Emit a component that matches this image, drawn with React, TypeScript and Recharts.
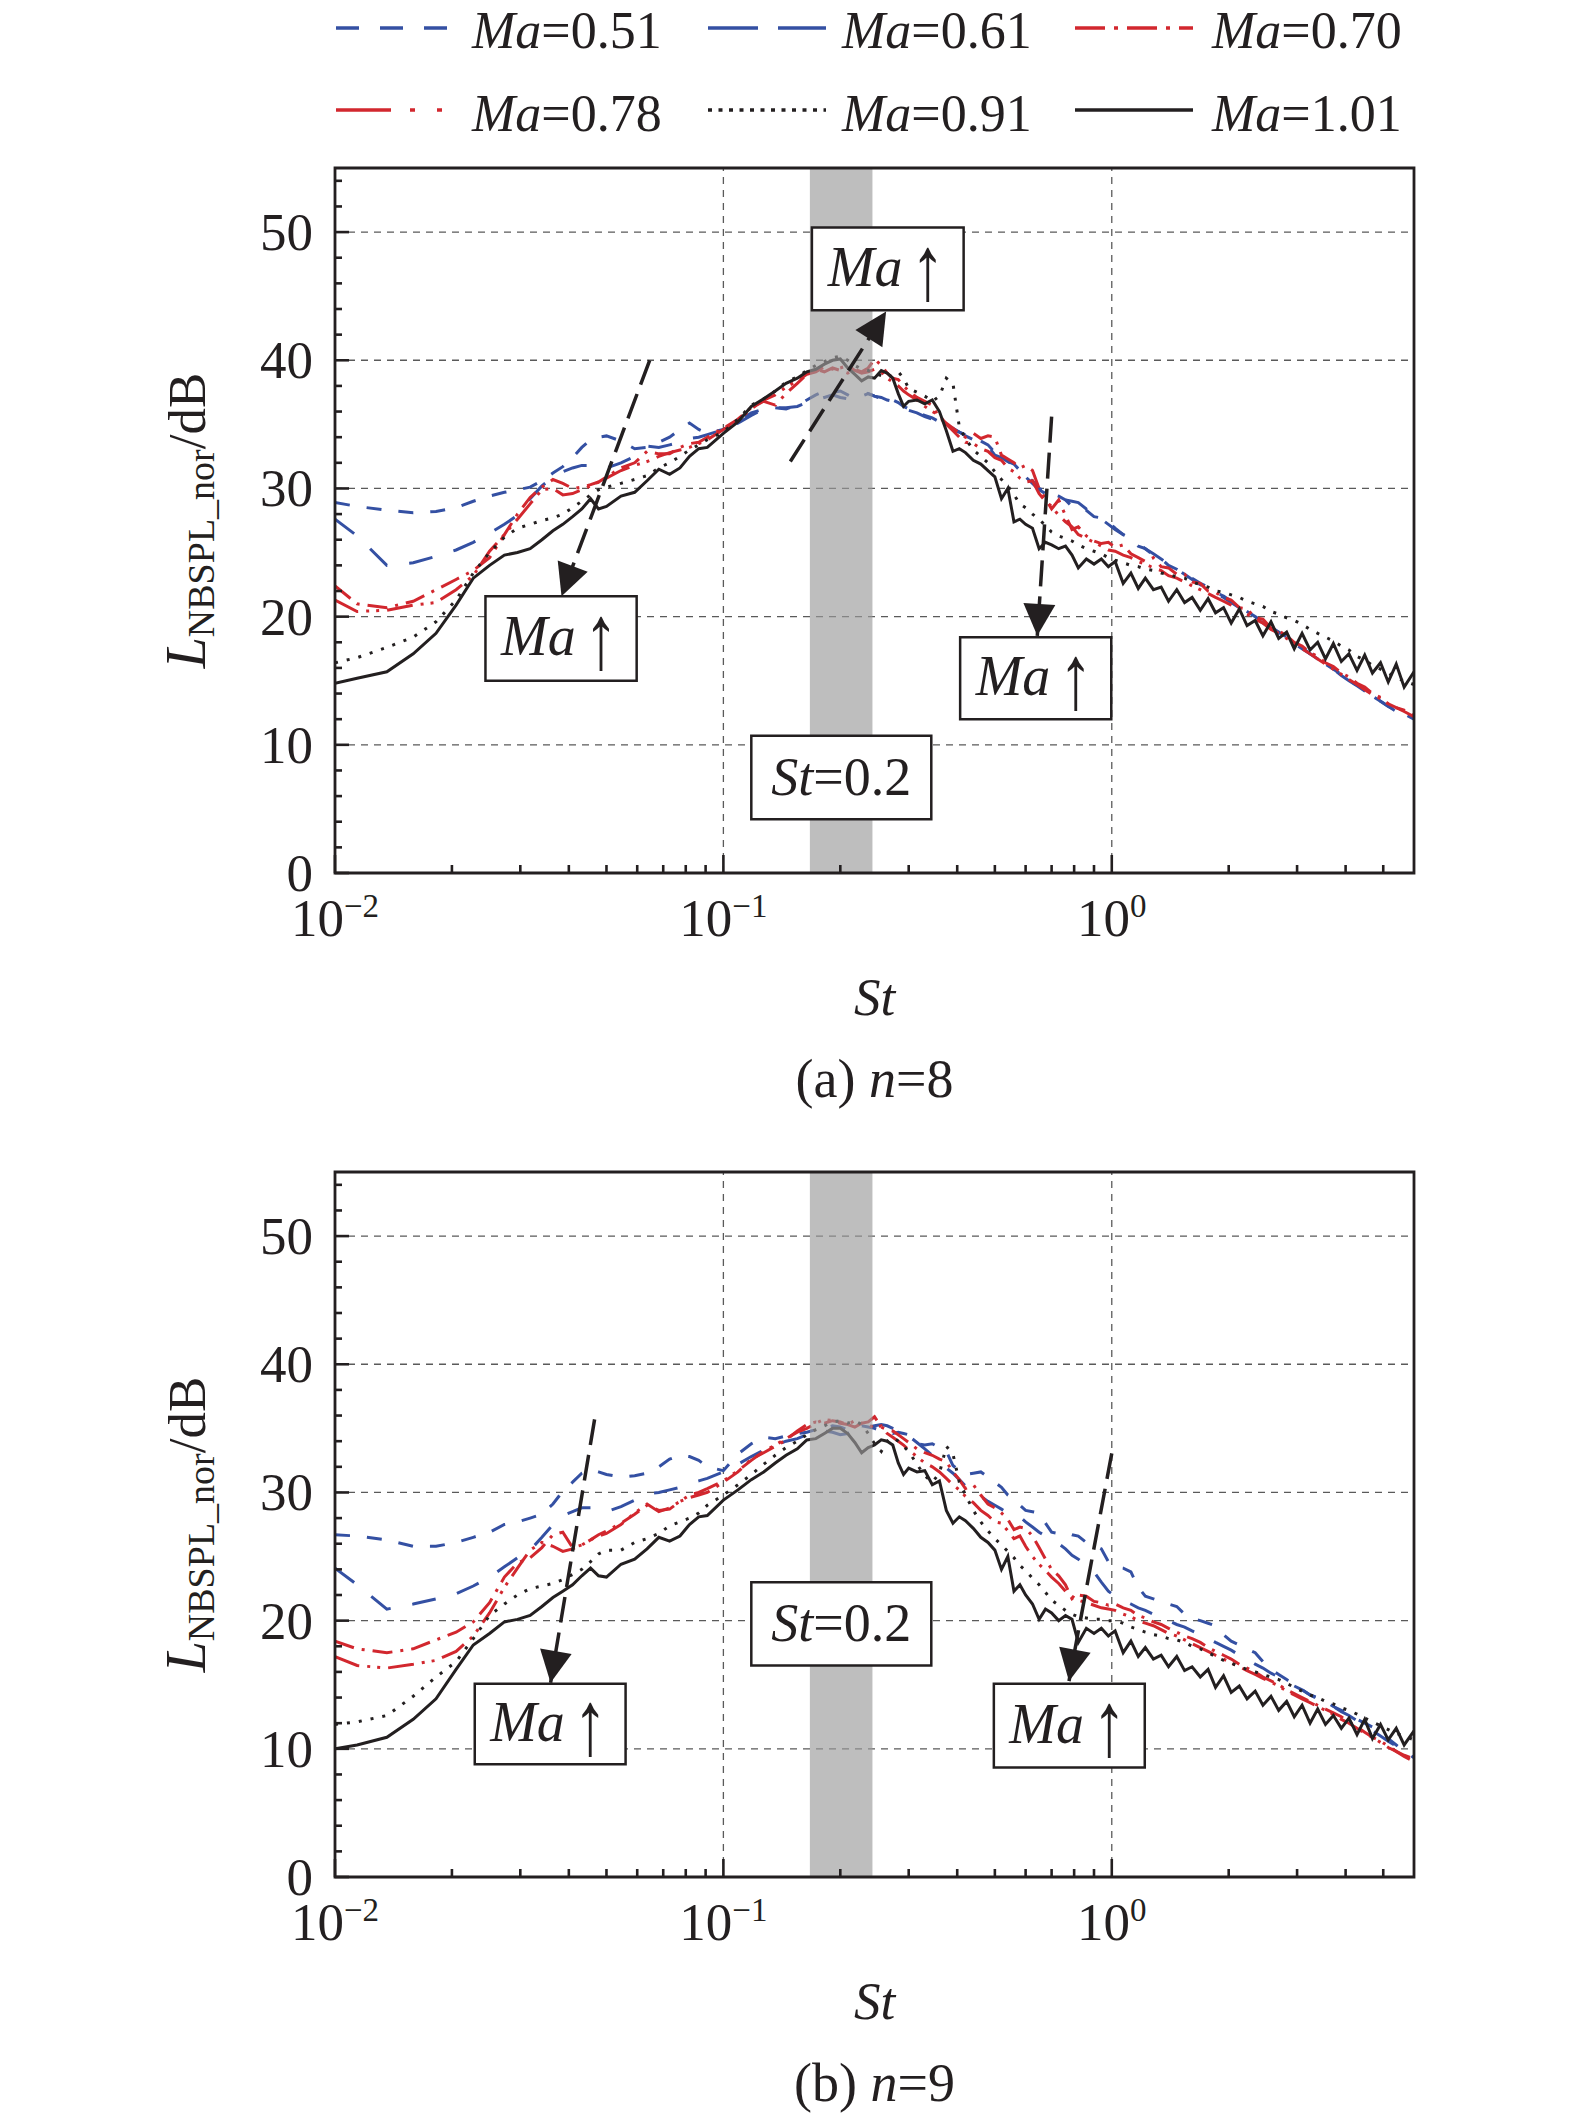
import React from 'react';
import { ComposedChart, Line, XAxis, YAxis, ReferenceArea, ReferenceLine } from 'recharts';

const FONT = '"Liberation Serif", "Times New Roman", Times, serif';
const INK = '#231f20';
const BLUE = '#3450a3';
const RED = '#d2272e';

// Strouhal number grid (shared by all series)
const stValues = [
  0.01, 0.0114, 0.0136, 0.0159, 0.0182, 0.0205, 0.0227, 0.025, 0.0273, 0.0295,
  0.0318, 0.0341, 0.0364, 0.0386, 0.0409, 0.0432, 0.0455, 0.0477, 0.05, 0.0545,
  0.0591, 0.0636, 0.0682, 0.0727, 0.0773, 0.0818, 0.0864, 0.0909, 0.1, 0.109,
  0.118, 0.127, 0.136, 0.145, 0.155, 0.164, 0.173, 0.182, 0.191, 0.2,
  0.209, 0.218, 0.227, 0.236, 0.245, 0.255, 0.264, 0.273, 0.282, 0.291,
  0.3, 0.315, 0.33, 0.345, 0.36, 0.375, 0.39, 0.405, 0.42, 0.44,
  0.46, 0.48, 0.5, 0.52, 0.54, 0.56, 0.58, 0.6, 0.625, 0.65,
  0.675, 0.7, 0.73, 0.76, 0.79, 0.82, 0.86, 0.9, 0.94, 0.98,
  1.02, 1.07, 1.12, 1.17, 1.22, 1.28, 1.34, 1.4, 1.47, 1.54,
  1.61, 1.69, 1.77, 1.85, 1.94, 2.03, 2.13, 2.23, 2.34, 2.45,
  2.57, 2.69, 2.82, 2.95, 3.09, 3.24, 3.39, 3.55, 3.72, 3.9,
  4.08, 4.28, 4.48, 4.69, 4.92, 5.15, 5.4, 5.66, 6.0,
];

// ---------- (a) n = 8 ----------
const n8Ma051 = [
  28.9, 28.6, 28.3, 28.1, 28.2, 28.5, 29.0, 29.4, 29.7, 29.9,
  30.1, 30.6, 31.2, 31.7, 32.4, 33.2, 33.8, 34.0, 34.1, 33.7,
  33.1, 33.2, 33.6, 34.0, 34.6, 35.1, 34.6, 34.3, 34.6, 35.2,
  35.9, 36.2, 36.3, 36.2, 36.5, 36.9, 37.3, 37.6, 37.5, 37.6,
  37.3, 37.0, 37.2, 37.4, 37.2, 37.0, 37.1, 36.9, 36.7, 36.4,
  36.2, 35.9, 35.7, 35.5, 35.2, 35.0, 34.7, 34.4, 34.2, 33.9,
  33.7, 33.4, 32.8, 32.5, 32.1, 31.9, 31.4, 31.0, 30.6, 30.0,
  29.8, 29.6, 29.4, 29.1, 28.6, 28.5, 28.3, 27.8, 27.7, 27.4,
  26.9, 26.4, 26.0, 25.5, 25.3, 24.8, 24.5, 24.0, 23.7, 23.3,
  23.0, 22.6, 22.3, 21.9, 21.6, 21.2, 20.8, 20.4, 20.0, 19.6,
  19.2, 18.8, 18.4, 18.0, 17.6, 17.1, 16.7, 16.3, 15.9, 15.5,
  15.1, 14.6, 14.2, 13.8, 13.4, 13.0, 12.7, 12.4, 12.0,
];
const n8Ma061 = [
  27.6, 26.3, 24.0, 24.2, 24.7, 25.2, 25.8, 26.5, 27.2, 27.9,
  29.2, 30.2, 30.9, 31.3, 31.6, 31.8, 31.8, 31.7, 31.6, 32.0,
  32.5, 33.3, 33.2, 33.4, 33.6, 33.9, 34.0, 34.2, 34.6, 35.1,
  35.7, 36.2, 36.3, 36.3, 36.4, 36.7, 36.9, 37.1, 37.3, 37.1,
  37.0, 37.2, 37.5, 37.4, 37.2, 37.1, 36.9, 36.8, 36.6, 36.3,
  36.1, 35.9, 35.6, 35.4, 35.2, 35.0, 34.6, 34.4, 34.1, 33.8,
  33.6, 33.3, 32.6, 32.4, 32.1, 31.8, 31.3, 30.9, 30.4, 29.9,
  29.6, 29.4, 29.3, 29.1, 29.0, 28.9, 28.4, 28.0, 27.6, 27.2,
  26.8, 26.4, 26.1, 25.7, 25.3, 24.9, 24.5, 24.1, 23.7, 23.3,
  22.9, 22.5, 22.2, 21.8, 21.5, 21.1, 20.7, 20.3, 19.9, 19.5,
  19.1, 18.7, 18.3, 17.9, 17.5, 17.1, 16.7, 16.3, 15.9, 15.4,
  15.0, 14.6, 14.2, 13.8, 13.4, 13.0, 12.6, 12.3, 11.9,
];
const n8Ma070 = [
  22.4, 21.0, 20.7, 21.2, 22.1, 22.9, 23.6, 24.6, 26.4, 28.0,
  29.3, 30.1, 30.7, 30.4, 30.0, 30.1, 30.3, 30.5, 30.9, 31.6,
  32.0, 32.9, 32.7, 32.7, 33.2, 33.5, 33.6, 34.0, 34.7, 35.4,
  36.3, 36.8, 36.5, 37.4, 38.2, 38.9, 39.3, 39.1, 39.4, 39.2,
  39.0, 39.3, 39.1, 39.4, 40.1, 39.6, 39.0, 38.6, 38.5, 38.0,
  37.6, 37.1, 36.8, 36.5, 35.5, 35.1, 34.7, 34.3, 34.0, 34.3,
  33.9, 34.1, 34.0, 32.6, 32.3, 32.0, 31.6, 31.8, 31.4, 30.0,
  29.2, 28.4, 29.1, 27.9, 26.8, 27.0, 26.3, 25.9, 25.7, 25.8,
  25.4, 25.6, 24.9, 24.6, 24.3, 24.6, 23.9, 23.8, 23.3, 23.3,
  22.7, 22.6, 22.0, 21.9, 21.5, 21.3, 20.7, 20.6, 19.9, 19.8,
  19.1, 18.9, 18.5, 18.0, 17.7, 17.2, 16.9, 16.4, 16.1, 15.6,
  15.3, 14.8, 14.5, 14.0, 13.7, 13.2, 12.9, 12.7, 12.3,
];
const n8Ma078 = [
  21.3, 20.4, 20.5, 20.9, 21.1, 22.1, 23.2, 25.1, 26.4, 27.6,
  28.8, 29.9, 30.0, 29.5, 29.6, 29.9, 30.2, 30.5, 30.8, 31.4,
  31.8, 32.1, 32.5, 32.8, 33.0, 33.2, 33.5, 33.8, 34.6, 35.3,
  36.2, 36.9, 37.3, 37.9, 38.4, 38.9, 39.1, 39.5, 39.3, 39.4,
  39.6, 39.2, 39.0, 39.1, 39.3, 39.1, 38.6, 38.3, 38.0, 37.6,
  37.3, 36.9, 36.4, 36.0, 35.7, 35.0, 34.5, 34.0, 33.6, 33.5,
  33.1, 32.9, 32.4, 32.2, 31.6, 31.3, 30.8, 30.5, 30.6, 29.6,
  29.0, 28.6, 27.9, 27.4, 27.0, 26.4, 26.1, 25.8, 25.5, 25.2,
  25.1, 24.8, 24.6, 24.3, 24.1, 23.8, 23.6, 23.2, 23.0, 22.7,
  22.4, 22.1, 21.8, 21.5, 21.2, 20.9, 20.5, 20.2, 19.8, 19.5,
  19.0, 18.7, 18.3, 17.9, 17.5, 17.1, 16.7, 16.3, 15.9, 15.5,
  15.1, 14.7, 14.3, 13.9, 13.6, 13.2, 12.9, 12.6, 12.2,
];
const n8Ma091 = [
  16.4, 16.8, 17.6, 18.4, 19.6, 21.3, 23.4, 25.0, 26.2, 26.9,
  27.2, 27.5, 27.7, 28.0, 28.5, 29.0, 29.5, 29.9, 30.1, 30.4,
  30.7, 31.0, 31.6, 32.0, 32.5, 33.0, 33.4, 33.8, 34.4, 35.4,
  36.5, 37.0, 37.6, 38.3, 38.7, 39.2, 39.6, 39.9, 40.2, 40.3,
  40.0, 39.6, 39.3, 39.2, 39.0, 38.8, 38.6, 38.9, 39.1, 38.6,
  37.8, 37.5, 37.2, 36.8, 37.2, 38.6, 38.2, 34.8, 33.9, 33.0,
  32.5, 32.0, 31.3, 30.7, 30.2, 29.5, 28.8, 28.5, 28.0, 27.6,
  27.1, 26.6, 26.3, 26.1, 25.9, 25.6, 25.3, 25.1, 24.9, 24.6,
  24.4, 24.2, 24.0, 23.9, 23.7, 23.6, 23.4, 23.3, 23.1, 23.0,
  22.7, 22.5, 22.3, 22.0, 21.9, 21.7, 21.5, 21.2, 21.0, 20.8,
  20.4, 20.2, 19.9, 19.7, 19.4, 19.0, 18.7, 18.4, 18.1, 17.7,
  17.4, 16.9, 16.6, 16.2, 15.9, 15.6, 15.2, 15.0, 14.7,
];
const n8Ma101 = [
  14.8, 15.2, 15.7, 17.1, 18.7, 20.9, 23.0, 24.0, 24.8, 25.0,
  25.3, 26.0, 26.7, 27.2, 27.8, 28.4, 29.2, 28.4, 28.6, 29.4,
  29.7, 30.6, 31.5, 31.1, 31.6, 32.5, 33.1, 33.2, 34.3, 35.2,
  36.4, 37.0, 37.6, 38.2, 38.6, 39.1, 39.3, 39.7, 40.0, 40.1,
  39.4, 38.9, 38.4, 38.7, 38.6, 39.2, 39.0, 38.6, 37.4, 36.4,
  36.8, 36.9, 36.6, 36.9, 36.0, 34.5, 32.9, 33.1, 32.8, 32.2,
  31.9, 31.4, 30.9, 29.2, 30.0, 27.4, 27.6, 27.2, 26.9, 25.3,
  25.8, 25.6, 25.3, 25.5, 24.8, 23.8, 24.5, 24.1, 24.5, 23.9,
  24.3, 22.6, 23.4, 22.2, 23.0, 22.1, 22.3, 21.2, 22.1, 21.1,
  21.5, 20.5, 21.4, 20.3, 20.7, 19.5, 20.6, 19.3, 19.7, 18.5,
  19.6, 18.3, 18.8, 17.5, 18.7, 17.4, 18.0, 16.7, 17.9, 16.5,
  17.1, 15.8, 17.0, 15.6, 16.4, 14.9, 16.3, 14.5, 15.7,
];

// ---------- (b) n = 9 ----------
const n9Ma051 = [
  26.7, 26.6, 26.3, 25.8, 25.8, 26.1, 26.5, 26.9, 27.5, 27.7,
  28.0, 28.3, 29.1, 30.1, 30.8, 31.5, 31.8, 31.6, 31.4, 31.2,
  31.3, 31.5, 32.0, 32.6, 32.9, 32.8, 32.5, 32.0, 31.7, 33.0,
  33.8, 34.3, 34.2, 34.4, 34.6, 34.7, 34.9, 35.0, 35.2, 35.1,
  34.9, 35.0, 35.2, 35.1, 35.0, 34.8, 34.7, 34.6, 34.7, 34.6,
  34.5, 33.8, 33.7, 33.8, 33.5, 33.2, 32.1, 31.7, 31.4, 31.5,
  31.6, 31.2, 30.8, 30.4, 29.8, 29.5, 29.0, 28.6, 28.5, 28.4,
  27.6, 26.9, 26.8, 26.9, 26.7, 26.6, 26.1, 25.9, 25.6, 24.6,
  24.2, 24.1, 23.8, 22.6, 21.9, 21.7, 21.5, 21.3, 21.1, 20.5,
  20.2, 20.0, 19.8, 19.6, 18.9, 18.4, 18.1, 17.8, 17.5, 16.8,
  16.2, 15.8, 15.4, 15.0, 14.6, 14.2, 14.0, 13.7, 13.3, 13.0,
  12.7, 12.3, 12.0, 11.7, 11.3, 10.8, 10.3, 9.8, 9.3,
];
const n9Ma061 = [
  24.1, 22.8, 20.9, 21.3, 21.7, 22.1, 22.7, 23.4, 24.2, 24.9,
  25.5, 26.5, 27.5, 28.2, 28.5, 28.8, 28.8, 28.6, 28.5, 28.9,
  29.4, 29.9, 30.0, 30.2, 30.4, 30.7, 30.9, 31.1, 31.6, 32.2,
  32.8, 33.3, 33.7, 34.0, 34.2, 34.5, 34.6, 34.8, 34.7, 34.5,
  34.6, 34.8, 35.0, 35.1, 35.2, 35.3, 35.2, 35.0, 34.8, 34.6,
  34.4, 33.9, 33.4, 32.9, 32.3, 31.9, 31.5, 31.0, 30.5, 30.2,
  29.7, 29.3, 29.0, 28.7, 28.4, 28.2, 28.1, 27.7, 27.3, 26.9,
  26.6, 26.3, 26.0, 25.6, 25.1, 24.8, 24.3, 23.8, 23.0, 22.3,
  21.9, 21.6, 21.3, 21.0, 20.8, 20.5, 20.2, 20.0, 19.7, 19.5,
  19.2, 18.9, 18.6, 18.3, 18.0, 17.7, 17.3, 17.0, 16.6, 16.3,
  15.9, 15.6, 15.2, 14.9, 14.6, 14.2, 13.9, 13.6, 13.3, 12.9,
  12.6, 12.2, 11.8, 11.4, 11.0, 10.6, 10.2, 9.8, 9.5,
];
const n9Ma070 = [
  18.4, 17.8, 17.5, 17.8, 18.5, 19.1, 19.9, 21.4, 23.4, 24.5,
  24.9, 25.7, 26.7, 26.9, 25.7, 25.9, 26.3, 26.7, 27.0, 27.6,
  28.3, 29.0, 28.6, 28.7, 29.3, 29.6, 29.8, 30.0, 30.8, 31.6,
  32.6, 33.1, 33.6, 34.1, 34.8, 35.3, 35.5, 35.4, 35.6, 35.5,
  35.3, 35.6, 35.4, 35.5, 35.9, 35.1, 34.9, 34.8, 34.5, 34.2,
  33.9, 33.4, 33.1, 32.9, 32.6, 32.4, 31.6, 31.0, 30.3, 30.6,
  29.8, 29.1, 28.8, 28.4, 27.9, 27.1, 27.3, 27.2, 26.6, 25.7,
  24.8, 24.0, 23.5, 22.8, 21.7, 22.0, 21.9, 21.5, 21.4, 21.2,
  21.3, 21.0, 20.8, 20.4, 20.2, 19.9, 19.7, 19.4, 19.1, 18.8,
  18.6, 18.3, 17.9, 17.6, 17.3, 17.0, 16.6, 16.3, 16.0, 15.6,
  15.3, 15.0, 14.6, 14.3, 14.0, 13.7, 13.4, 13.1, 12.8, 12.5,
  12.1, 11.7, 11.3, 10.9, 10.6, 10.2, 9.8, 9.5, 9.2,
];
const n9Ma078 = [
  17.2, 16.5, 16.3, 16.6, 16.9, 17.6, 18.8, 20.6, 22.6, 24.1,
  25.5, 26.1, 25.8, 25.4, 25.6, 25.9, 26.3, 26.6, 26.8, 27.5,
  28.4, 29.1, 28.5, 28.8, 29.3, 29.8, 30.0, 30.3, 30.9, 31.7,
  32.5, 33.2, 33.7, 34.2, 34.7, 35.0, 35.4, 35.7, 35.6, 35.4,
  35.3, 35.1, 35.4, 35.3, 35.0, 35.2, 34.6, 34.3, 34.0, 33.7,
  33.3, 32.8, 32.3, 32.0, 31.6, 31.1, 30.6, 30.2, 29.7, 29.2,
  28.6, 28.2, 27.7, 27.6, 27.0, 26.4, 26.6, 25.8, 25.0, 24.4,
  23.9, 23.4, 22.9, 22.3, 21.9, 21.6, 21.4, 21.2, 21.0, 20.9,
  20.8, 20.5, 20.3, 20.0, 19.8, 19.6, 19.3, 19.0, 18.8, 18.5,
  18.2, 17.9, 17.6, 17.3, 17.0, 16.7, 16.4, 16.1, 15.8, 15.5,
  15.2, 14.9, 14.5, 14.2, 13.9, 13.6, 13.3, 13.0, 12.7, 12.3,
  12.0, 11.6, 11.2, 10.9, 10.5, 10.1, 9.8, 9.4, 9.0,
];
const n9Ma091 = [
  11.9, 12.1, 12.6, 14.1, 15.6, 16.8, 18.6, 20.4, 21.3, 22.0,
  22.5, 22.7, 22.9, 23.2, 23.6, 24.0, 24.6, 25.2, 25.5, 25.5,
  26.1, 26.4, 26.8, 27.4, 27.7, 28.0, 28.4, 29.0, 29.8, 30.6,
  31.4, 32.2, 32.9, 33.5, 34.0, 34.5, 34.9, 35.2, 35.5, 35.6,
  35.4, 35.6, 35.3, 34.6, 33.8, 33.2, 34.0, 34.3, 34.0, 33.6,
  33.2, 32.2, 31.3, 30.8, 31.5, 33.6, 33.0, 30.8, 29.8, 28.6,
  27.7, 27.0, 26.4, 25.9, 25.4, 24.9, 24.3, 23.9, 23.3, 22.8,
  22.2, 21.6, 21.2, 20.8, 20.5, 20.3, 20.2, 20.1, 20.1, 20.0,
  20.0, 19.8, 19.5, 19.3, 19.1, 18.9, 18.8, 18.6, 18.5, 18.3,
  18.0, 17.8, 17.5, 17.2, 16.9, 16.7, 16.4, 16.2, 16.0, 15.8,
  15.6, 15.4, 15.1, 14.8, 14.5, 14.2, 14.0, 13.7, 13.5, 13.2,
  13.0, 12.7, 12.4, 12.1, 11.8, 11.5, 11.2, 11.0, 10.7,
];
const n9Ma101 = [
  10.0, 10.3, 10.9, 12.3, 13.9, 16.2, 18.1, 19.0, 19.9, 20.1,
  20.4, 21.1, 21.8, 22.3, 22.8, 23.5, 24.1, 23.5, 23.4, 24.4,
  24.8, 25.6, 26.5, 26.2, 26.6, 27.5, 28.1, 28.2, 29.4, 30.2,
  31.0, 31.6, 32.3, 32.9, 33.4, 34.1, 34.2, 34.6, 35.0, 35.0,
  34.6, 33.9, 33.1, 33.5, 33.7, 34.1, 34.0, 33.7, 32.3, 31.4,
  31.9, 31.6, 31.7, 30.6, 30.9, 28.6, 27.6, 28.1, 27.8, 27.2,
  26.5, 26.1, 25.5, 24.0, 25.0, 22.3, 22.8, 22.0, 21.3, 20.1,
  20.9, 20.6, 20.0, 20.4, 20.1, 18.3, 19.4, 19.0, 19.4, 18.8,
  19.2, 17.5, 18.4, 17.2, 17.9, 17.0, 17.3, 16.4, 17.2, 16.1,
  16.4, 15.6, 16.2, 14.8, 15.7, 14.4, 14.9, 13.9, 14.5, 13.4,
  14.1, 13.0, 13.7, 12.5, 13.4, 12.0, 13.1, 11.9, 12.6, 11.6,
  12.4, 11.1, 12.3, 10.8, 11.9, 10.7, 11.6, 10.3, 11.4,
];

// Series labels (Mach numbers) and keys
const machLabels = ['0.51', '0.61', '0.70', '0.78', '0.91', '1.01'];
const seriesKeys = ['ma051', 'ma061', 'ma070', 'ma078', 'ma091', 'ma101'];

// Axis ticks
const yTicksAll = [0, 2, 4, 6, 8, 10, 12, 14, 16, 18, 20, 22, 24, 26, 28, 30, 32, 34, 36, 38, 40, 42, 44, 46, 48, 50, 52, 54];
const yMajorTicks = [0, 10, 20, 30, 40, 50];
const xTicksAll = [0.01, 0.02, 0.03, 0.04, 0.05, 0.06, 0.07, 0.08, 0.09, 0.1, 0.2, 0.3, 0.4, 0.5, 0.6, 0.7, 0.8, 0.9, 1, 2, 3, 4, 5];
const xMajorTicks = [0.01, 0.1, 1];
const xMajorExponents = ['\u22122', '\u22121', '0'];
const gridY = [10, 20, 30, 40, 50];
const gridX = [0.1, 1];
const bandSt = [0.167, 0.242];

// Annotations (data coordinates)
const n8Boxes = [
  { x1: 0.0244, x2: 0.0598, y1: 15.0, y2: 21.6, kind: 'ma' },
  { x1: 0.169, x2: 0.4155, y1: 43.9, y2: 50.35, kind: 'ma' },
  { x1: 0.407, x2: 0.997, y1: 12.0, y2: 18.4, kind: 'ma' },
  { x1: 0.118, x2: 0.343, y1: 4.2, y2: 10.7, kind: 'st' },
];
const n8Arrows = [
  { from: [0.0646, 40.0], to: [0.0383, 21.6] },
  { from: [0.1487, 32.1], to: [0.2624, 43.8] },
  { from: [0.70, 35.6], to: [0.643, 18.5] },
];
const n9Boxes = [
  { x1: 0.0229, x2: 0.056, y1: 8.8, y2: 15.07, kind: 'ma' },
  { x1: 0.118, x2: 0.343, y1: 16.5, y2: 23.0, kind: 'st' },
  { x1: 0.497, x2: 1.216, y1: 8.55, y2: 15.07, kind: 'ma' },
];
const n9Arrows = [
  { from: [0.0466, 35.7], to: [0.0359, 15.15] },
  { from: [1.0, 33.05], to: [0.776, 15.28] },
];

const seriesStyles = [
  { color: BLUE, dash: '15 17', legendDash: '23 21' },
  { color: BLUE, dash: '24 22', legendDash: '50 20' },
  { color: RED, dash: '20 8 3 8', legendDash: '30 9 4 9' },
  { color: RED, dash: '26 8 3 7 3 8', legendDash: '55 19 5 22 5 40' },
  { color: INK, dash: '3 9', legendDash: '4 6.5' },
  { color: INK, dash: undefined, legendDash: undefined },
];

function buildRows(seriesValues: number[][]) {
  return stValues.map((st, i) => {
    const row: any = { st };
    seriesKeys.forEach((k, j) => {
      row[k] = seriesValues[j][i];
    });
    return row;
  });
}

const rowsN8 = buildRows([n8Ma051, n8Ma061, n8Ma070, n8Ma078, n8Ma091, n8Ma101]);
const rowsN9 = buildRows([n9Ma051, n9Ma061, n9Ma070, n9Ma078, n9Ma091, n9Ma101]);

const renderYTick = (props: any) => {
  const { x, y, payload } = props;
  const v = payload.value;
  const major = yMajorTicks.includes(v);
  return (
    <g>
      <line x1={x} x2={x + (major ? 14 : 7)} y1={y} y2={y} stroke={INK} strokeWidth={2.6} />
      {major ? (
        <text x={x - 22} y={y + 18} textAnchor="end" fontFamily={FONT} fontSize={53} fill={INK}>
          {v}
        </text>
      ) : null}
    </g>
  );
};

const renderXTick = (props: any) => {
  const { x, y, payload } = props;
  const v = payload.value;
  const mi = xMajorTicks.indexOf(v);
  return (
    <g>
      <line x1={x} x2={x} y1={y} y2={y - (mi >= 0 ? 18 : 8)} stroke={INK} strokeWidth={2.6} />
      {mi >= 0 ? (
        <text x={x} y={y + 63} textAnchor="middle" fontFamily={FONT} fontSize={53} fill={INK}>
          10
          <tspan dy={-19} fontSize={33}>
            {xMajorExponents[mi]}
          </tspan>
        </text>
      ) : null}
    </g>
  );
};

const renderYLabel = (props: any) => {
  const vb = props.viewBox;
  if (!vb) return null;
  const x = vb.x + vb.width - 130;
  const y = vb.y + vb.height / 2;
  return (
    <text
      transform={`rotate(-90 ${x} ${y})`}
      x={x}
      y={y}
      textAnchor="middle"
      fontFamily={FONT}
      fontSize={53}
      fill={INK}
    >
      <tspan fontStyle="italic" fontSize={56}>L</tspan>
      <tspan fontSize={38} dy={9}>
        NBSPL_nor
      </tspan>
      <tspan dy={-9}>/dB</tspan>
    </text>
  );
};

const makeXLabel = (letter: string, n: string) => (props: any) => {
  const vb = props.viewBox;
  if (!vb) return null;
  const cx = vb.x + vb.width / 2;
  return (
    <g>
      <text x={cx} y={vb.y + 142} textAnchor="middle" fontFamily={FONT} fontSize={53} fontStyle="italic" fill={INK}>
        St
      </text>
      <text x={cx} y={vb.y + 224} textAnchor="middle" fontFamily={FONT} fontSize={54} fill={INK}>
        ({letter}) <tspan fontStyle="italic">n</tspan>={n}
      </text>
    </g>
  );
};

const BoxText = (props: any) => {
  const vb = props.viewBox;
  if (!vb) return null;
  const cx = vb.x + vb.width / 2;
  const cy = vb.y + vb.height / 2;
  if (props.kind === 'st') {
    return (
      <text x={cx} y={cy + 17} textAnchor="middle" fontFamily={FONT} fontSize={54} fill={INK}>
        <tspan fontStyle="italic">St</tspan>=0.2
      </text>
    );
  }
  const base = cy + 17;
  return (
    <g>
      <text x={cx - 60} y={base} textAnchor="start" fontFamily={FONT} fontSize={56} fontStyle="italic" fill={INK}>
        Ma
      </text>
      <text
        transform={`translate(${cx + 40} ${base - 13}) scale(1 1.35) translate(0 19)`}
        x={0}
        y={0}
        textAnchor="middle"
        fontFamily={FONT}
        fontSize={68}
        fill={INK}
      >
        {'\u2191'}
      </text>
    </g>
  );
};

function makeArrowHead() {
  let start: any = null;
  return (props: any) => {
    const { cx, cy, index, points } = props;
    if (index === 0) {
      start = { x: cx, y: cy };
      return <g key={`s${index}`} />;
    }
    const p0 = points && points[0] && points[0].x != null ? points[0] : start;
    if (!p0 || cx == null) return <g key={`e${index}`} />;
    const dx = cx - p0.x;
    const dy = cy - p0.y;
    const len = Math.hypot(dx, dy) || 1;
    const ux = dx / len;
    const uy = dy / len;
    const L = 32;
    const W = 16;
    const bx = cx - ux * L;
    const by = cy - uy * L;
    const pts = `${cx},${cy} ${bx - uy * W},${by + ux * W} ${bx + uy * W},${by - ux * W}`;
    return <polygon key={`e${index}`} points={pts} fill={INK} />;
  };
}

function Panel({ rows, boxes, arrows, letter, n }: any) {
  return (
    <ComposedChart width={1575} height={1110} data={rows} margin={{ top: 168, right: 161, bottom: 0, left: 0 }}>
      <XAxis
        dataKey="st"
        type="number"
        scale="log"
        domain={[0.01, 6]}
        allowDataOverflow
        ticks={xTicksAll}
        interval={0}
        tickSize={0}
        tickMargin={0}
        axisLine={false}
        tickLine={false}
        tick={renderXTick}
        height={237}
        label={makeXLabel(letter, n)}
      />
      <YAxis
        type="number"
        domain={[0, 55]}
        allowDataOverflow
        ticks={yTicksAll}
        interval={0}
        tickSize={0}
        tickMargin={0}
        axisLine={false}
        tickLine={false}
        tick={renderYTick}
        width={335}
        label={renderYLabel}
      />
      {gridY.map((v) => (
        <ReferenceLine key={`gy${v}`} y={v} stroke="#5a5a5a" strokeWidth={1.3} strokeDasharray="7 6" zIndex={-100} />
      ))}
      {gridX.map((v) => (
        <ReferenceLine key={`gx${v}`} x={v} stroke="#5a5a5a" strokeWidth={1.3} strokeDasharray="7 6" zIndex={-100} />
      ))}
      {seriesKeys.map((k, j) => (
        <Line
          key={k}
          dataKey={k}
          type="linear"
          stroke={seriesStyles[j].color}
          strokeWidth={3}
          strokeDasharray={seriesStyles[j].dash}
          dot={false}
          activeDot={false}
          isAnimationActive={false}
        />
      ))}
      <ReferenceArea
        x1={bandSt[0]}
        x2={bandSt[1]}
        y1={0}
        y2={55}
        fill="#9b9b9b"
        fillOpacity={0.65}
        stroke="none"
        zIndex={450}
      />
      {arrows.map((a: any, i: number) => (
        <Line
          key={`arrow${i}`}
          data={[
            { st: a.from[0], v: a.from[1] },
            { st: a.to[0], v: a.to[1] },
          ]}
          dataKey="v"
          type="linear"
          stroke={INK}
          strokeWidth={3.5}
          strokeDasharray="26 10"
          dot={makeArrowHead()}
          activeDot={false}
          isAnimationActive={false}
          zIndex={455}
        />
      ))}
      {boxes.map((b: any, i: number) => (
        <ReferenceArea
          key={`box${i}`}
          x1={b.x1}
          x2={b.x2}
          y1={b.y1}
          y2={b.y2}
          fill="#ffffff"
          fillOpacity={1}
          stroke={INK}
          strokeWidth={2.5}
          zIndex={460}
          label={<BoxText kind={b.kind} />}
        />
      ))}
      <ReferenceArea x1={0.01} x2={6} y1={0} y2={55} fill="none" stroke={INK} strokeWidth={2.8} zIndex={470} />
    </ComposedChart>
  );
}

function LegendBlock() {
  const lineX = [336, 708, 1075];
  const textX = [472, 842, 1212];
  const lineY = [28, 110];
  const textY = [48, 131];
  return (
    <svg width={1575} height={150} style={{ position: 'absolute', left: 0, top: 0 }}>
      {machLabels.map((m, i) => {
        const row = Math.floor(i / 3);
        const col = i % 3;
        return (
          <g key={m}>
            <line
              x1={lineX[col]}
              x2={lineX[col] + 118}
              y1={lineY[row]}
              y2={lineY[row]}
              stroke={seriesStyles[i].color}
              strokeWidth={3.5}
              strokeDasharray={seriesStyles[i].legendDash}
            />
            <text x={textX[col]} y={textY[row]} fontFamily={FONT} fontSize={52} fill={INK}>
              <tspan fontStyle="italic">Ma</tspan>={m}
            </text>
          </g>
        );
      })}
    </svg>
  );
}

export default function App() {
  return (
    <div style={{ position: 'absolute', left: 0, top: 0, width: 1575, height: 2118, background: '#ffffff', overflow: 'hidden' }}>
      <div style={{ position: 'absolute', left: 0, top: 0 }}>
        <Panel rows={rowsN8} boxes={n8Boxes} arrows={n8Arrows} letter="a" n="8" />
      </div>
      <div style={{ position: 'absolute', left: 0, top: 1004 }}>
        <Panel rows={rowsN9} boxes={n9Boxes} arrows={n9Arrows} letter="b" n="9" />
      </div>
      <LegendBlock />
    </div>
  );
}
